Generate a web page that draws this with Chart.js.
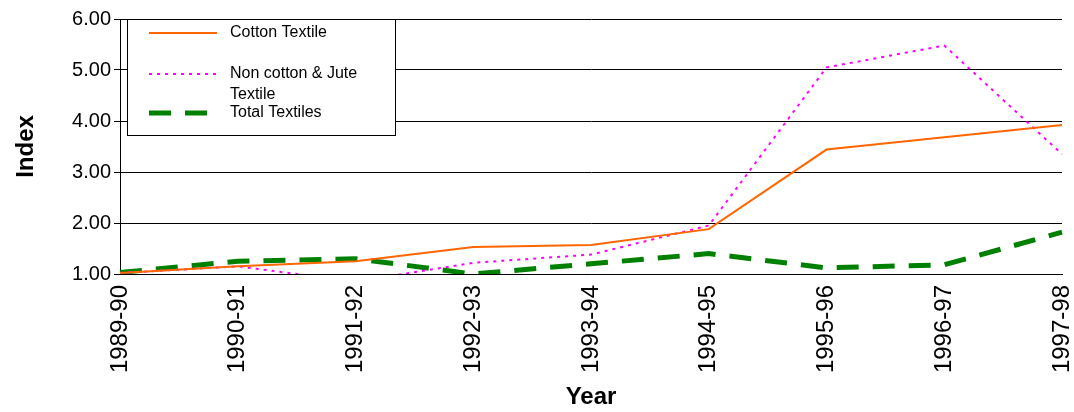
<!DOCTYPE html>
<html><head><meta charset="utf-8">
<script src="https://cdn.jsdelivr.net/npm/chart.js@4"></script>
<style>body{margin:0;background:#fff}#wrap{width:1074px;height:412px}</style>
</head><body><div id="wrap"><canvas id="c"></canvas></div>
<script>
// data
const years = ["1989-90","1990-91","1991-92","1992-93","1993-94","1994-95","1995-96","1996-97","1997-98"];
const cotton = [1.02,1.15,1.25,1.53,1.57,1.88,3.44,3.68,3.92];
const nonCotton = [1.02,1.15,0.85,1.22,1.38,1.95,5.05,5.48,3.35];
const total = [1.03,1.25,1.30,1.00,1.20,1.40,1.12,1.18,1.82];
const yTicks = [1,2,3,4,5,6];

// boxed legend drawn inside the plot, like the original
const boxLegend = {
  id: 'boxLegend',
  afterDraw(chart) {
    const c = chart.ctx, a = chart.chartArea;
    const x = a.left + 7, y = a.top, w = 268, h = 116;
    c.save();
    c.fillStyle = '#fff'; c.fillRect(x, y, w, h);
    c.strokeStyle = '#000'; c.lineWidth = 1; c.strokeRect(x + 0.5, y + 0.5, w, h);
    c.font = '16px Arial, "Liberation Sans"'; c.fillStyle = '#000'; c.textBaseline = 'middle';
    const items = [
      {ds: 0, ly: 14, text: ['Cotton Textile']},
      {ds: 1, ly: 55, text: ['Non cotton & Jute', 'Textile']},
      {ds: 2, ly: 94, text: ['Total Textiles']}
    ];
    items.forEach(it => {
      const d = chart.data.datasets[it.ds];
      c.strokeStyle = d.borderColor; c.lineWidth = d.borderWidth;
      c.setLineDash(d.borderDash || []);
      c.beginPath(); c.moveTo(x + 22, y + it.ly); c.lineTo(x + 90, y + it.ly); c.stroke();
      c.setLineDash([]);
      it.text.forEach((t, i) => c.fillText(t, x + 103, y + it.ly + i * 21));
    });
    c.restore();
  }
};

new Chart(document.getElementById('c'), {
  type: 'line',
  data: {
    labels: years,
    datasets: [
      {label: 'Cotton Textile', data: cotton, borderColor: '#ff6600', borderWidth: 2, pointRadius: 0, tension: 0},
      {label: 'Non cotton & Jute Textile', data: nonCotton, borderColor: '#ff00ff', borderWidth: 2, borderDash: [3, 5], pointRadius: 0},
      {label: 'Total Textiles', data: total, borderColor: '#008000', borderWidth: 5, borderDash: [22, 14], pointRadius: 0}
    ]
  },
  options: {
    responsive: true, maintainAspectRatio: false, animation: false,
    layout: {padding: {left: 6, right: 12, top: 19, bottom: 0}},
    plugins: {legend: {display: false}, tooltip: {enabled: false}},
    scales: {
      x: {
        offset: false,
        grid: {display: false},
        border: {color: '#000'},
        afterFit: s => { s.height = 138; s.paddingLeft = 0; s.paddingRight = 0; },
        ticks: {color: '#000', font: {size: 24, family: 'Arial'}, maxRotation: 90, minRotation: 90, padding: 3},
        title: {display: true, text: 'Year', color: '#000', font: {size: 24, weight: 'bold', family: 'Arial'}, padding: 0}
      },
      y: {
        min: 1, max: 6,
        afterBuildTicks: s => { s.ticks = yTicks.map(v => ({value: v})); },
        afterFit: s => { s.width = 114; s.paddingTop = 0; s.paddingBottom = 0; },
        grid: {color: '#000', drawTicks: true, tickLength: 6},
        border: {color: '#000'},
        ticks: {color: '#000', font: {size: 20, family: 'Arial'}, callback: v => v.toFixed(2)},
        title: {display: true, text: 'Index', color: '#000', font: {size: 24, weight: 'bold', family: 'Arial'}, padding: 6}
      }
    }
  },
  plugins: [boxLegend]
});
</script></body></html>
